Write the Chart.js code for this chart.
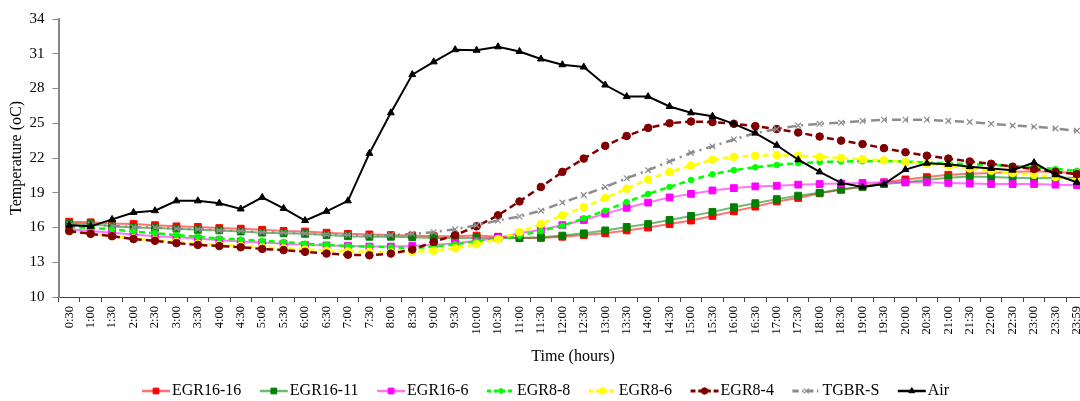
<!DOCTYPE html>
<html>
<head>
<meta charset="utf-8">
<script src="https://cdn.jsdelivr.net/npm/chart.js@4"></script>
<style>
  html, body { margin: 0; padding: 0; background: #fff; overflow: hidden; }
  #wrap { position: absolute; left: 0; top: 0; width: 1096px; height: 401px; }
</style>
</head>
<body>
<div id="wrap"><canvas id="chart"></canvas></div>
<script>
const timeLabels = [
  "0:30", "1:00", "1:30", "2:00", "2:30", "3:00", "3:30", "4:00", "4:30", "5:00", "5:30", "6:00",
  "6:30", "7:00", "7:30", "8:00", "8:30", "9:00", "9:30", "10:00", "10:30", "11:00", "11:30", "12:00",
  "12:30", "13:00", "13:30", "14:00", "14:30", "15:00", "15:30", "16:00", "16:30", "17:00", "17:30", "18:00",
  "18:30", "19:00", "19:30", "20:00", "20:30", "21:00", "21:30", "22:00", "22:30", "23:00", "23:30", "23:59"
];

const egr1616 = [
  16.5, 16.45, 16.35, 16.3, 16.2, 16.1, 16.05, 15.95, 15.9, 15.8, 15.7, 15.65,
  15.55, 15.45, 15.4, 15.35, 15.3, 15.25, 15.25, 15.3, 15.2, 15.1, 15.1, 15.2,
  15.35, 15.5, 15.75, 16.0, 16.3, 16.6, 17.0, 17.4, 17.8, 18.25, 18.55, 18.95,
  19.25, 19.55, 19.9, 20.15, 20.35, 20.55, 20.65, 20.7, 20.8, 20.85, 20.8, 20.7
];
const egr1611 = [
  16.35, 16.3, 16.1, 16.0, 15.95, 15.9, 15.8, 15.75, 15.65, 15.55, 15.5, 15.45,
  15.35, 15.25, 15.2, 15.2, 15.15, 15.1, 15.1, 15.1, 15.1, 15.1, 15.15, 15.3,
  15.5, 15.75, 16.05, 16.3, 16.65, 17.0, 17.35, 17.75, 18.1, 18.45, 18.75, 19.0,
  19.3, 19.5, 19.75, 19.9, 20.1, 20.3, 20.4, 20.35, 20.3, 20.25, 20.3, 20.3
];
const egr166 = [
  15.85, 15.7, 15.55, 15.4, 15.25, 15.15, 15.05, 14.9, 14.8, 14.7, 14.6, 14.5,
  14.45, 14.4, 14.35, 14.35, 14.4, 14.5, 14.65, 14.85, 15.1, 15.5, 15.8, 16.2,
  16.65, 17.2, 17.7, 18.15, 18.6, 18.9, 19.2, 19.4, 19.55, 19.6, 19.7, 19.75,
  19.8, 19.85, 19.9, 19.9, 19.9, 19.85, 19.8, 19.75, 19.75, 19.75, 19.7, 19.65
];
const egr88 = [
  16.05, 15.95, 15.85, 15.65, 15.5, 15.35, 15.2, 15.05, 14.95, 14.85, 14.75, 14.6,
  14.5, 14.4, 14.35, 14.3, 14.2, 14.35, 14.55, 14.8, 15.0, 15.3, 15.7, 16.15,
  16.8, 17.45, 18.2, 18.9, 19.5, 20.1, 20.6, 20.95, 21.2, 21.4, 21.55, 21.65,
  21.7, 21.72, 21.75, 21.7, 21.6, 21.55, 21.45, 21.4, 21.3, 21.2, 21.05, 20.9
];
const egr86 = [
  15.65, 15.45, 15.25, 15.05, 14.9, 14.75, 14.6, 14.5, 14.4, 14.3, 14.2, 14.1,
  14.0, 13.95, 13.9, 13.85, 13.9, 14.0, 14.2, 14.55, 15.0, 15.6, 16.3, 17.05,
  17.75, 18.55, 19.35, 20.15, 20.8, 21.35, 21.85, 22.1, 22.2, 22.25, 22.2, 22.1,
  22.0, 21.9, 21.8, 21.65, 21.5, 21.3, 21.1, 20.9, 20.7, 20.55, 20.35, 20.1
];
const egr84 = [
  15.7, 15.45, 15.25, 15.0, 14.85, 14.65, 14.5, 14.4, 14.3, 14.15, 14.05, 13.9,
  13.75, 13.65, 13.6, 13.75, 14.1, 14.75, 15.35, 16.1, 17.05, 18.25, 19.5, 20.8,
  21.95, 23.05, 23.9, 24.6, 25.0, 25.15, 25.1, 24.95, 24.75, 24.5, 24.2, 23.85,
  23.5, 23.2, 22.85, 22.5, 22.2, 21.95, 21.7, 21.5, 21.25, 21.05, 20.8, 20.6
];
const tgbrS = [
  16.3, 16.25, 16.15, 16.05, 16.0, 15.9, 15.85, 15.75, 15.7, 15.6, 15.55, 15.5,
  15.4, 15.35, 15.3, 15.35, 15.45, 15.6, 15.85, 16.2, 16.6, 16.95, 17.45, 18.15,
  18.8, 19.5, 20.25, 20.95, 21.7, 22.45, 23.0, 23.6, 24.15, 24.5, 24.8, 24.95,
  25.05, 25.2, 25.3, 25.3, 25.3, 25.2, 25.1, 24.95, 24.8, 24.7, 24.55, 24.35
];
const air = [
  16.2, 16.1, 16.7, 17.3, 17.45, 18.3, 18.3, 18.1, 17.6, 18.6, 17.65, 16.6,
  17.4, 18.3, 22.4, 25.9, 29.2, 30.3, 31.35, 31.3, 31.6, 31.2, 30.55, 30.05,
  29.85, 28.3, 27.3, 27.3, 26.45, 25.9, 25.6, 24.95, 24.15, 23.1, 21.85, 20.8,
  19.85, 19.5, 19.75, 21.0, 21.55, 21.45, 21.25, 21.1, 20.95, 21.6, 20.55, 19.9
];

const yTicks = [10, 13, 16, 19, 22, 25, 28, 31, 34];
const FONT = "'Liberation Serif', 'Times New Roman', serif";

function series(label, data, color, lineColor, style, radius, dash, width) {
  return {
    label, data,
    borderColor: lineColor,
    backgroundColor: color,
    pointBorderColor: color,
    pointBackgroundColor: color,
    pointStyle: style,
    pointRadius: radius,
    pointBorderWidth: style === "crossRot" ? 1.2 : 1,
    borderWidth: width,
    borderDash: dash,
    tension: 0,
    fill: false
  };
}

const datasets = [
  series("EGR16-16", egr1616, "#ff0000", "rgba(255,0,0,0.55)", "rect", 4.8, [], 2),
  series("EGR16-11", egr1611, "#008000", "rgba(0,128,0,0.55)", "rect", 4.8, [], 2),
  series("EGR16-6", egr166, "#ff00ff", "rgba(255,0,255,0.55)", "rect", 4.8, [], 2),
  series("EGR8-8", egr88, "#00ff00", "#00ff00", "circle", 2.8, [6, 4], 2.5),
  series("EGR8-6", egr86, "#ffff00", "#ffff00", "circle", 3.8, [6, 4], 2.5),
  series("EGR8-4", egr84, "#800000", "#800000", "circle", 3.8, [7, 4], 2.5),
  series("TGBR-S", tgbrS, "#8c8c8c", "#8c8c8c", "crossRot", 4, [9, 5, 2, 5], 2.5),
  series("Air", air, "#000000", "#000000", "triangle", 4, [], 2)
];
// later series on top, like the original
datasets.forEach((d, i) => { d.order = datasets.length - i; });

const extras = {
  id: "extras",
  afterDraw(chart) {
    const ctx = chart.ctx;
    const area = chart.chartArea;
    ctx.save();
    ctx.fillStyle = "#000";
    ctx.font = "16px " + FONT;
    ctx.textAlign = "center";
    ctx.textBaseline = "middle";
    // axis titles
    ctx.fillText("Time (hours)", (area.left + area.right) / 2, 357);
    ctx.save();
    ctx.translate(17, (area.top + area.bottom) / 2);
    ctx.rotate(-Math.PI / 2);
    ctx.fillText("Temperature (oC)", 0, 0);
    ctx.restore();

    // legend: line sample with marker, then label
    let x = 142;
    const y = 391;
    ctx.textAlign = "left";
    chart.data.datasets.forEach(d => {
      ctx.save();
      ctx.strokeStyle = d.borderColor;
      ctx.lineWidth = d.borderWidth + 0.5;
      ctx.setLineDash(d.borderDash.length ? d.borderDash.map(v => v * 0.7) : []);
      ctx.beginPath();
      ctx.moveTo(x, y);
      ctx.lineTo(x + 28, y);
      ctx.stroke();
      ctx.setLineDash([]);
      ctx.fillStyle = d.pointBackgroundColor;
      ctx.strokeStyle = d.pointBorderColor;
      ctx.lineWidth = d.pointBorderWidth;
      Chart.helpers.drawPoint(ctx, {
        pointStyle: d.pointStyle, radius: d.pointRadius * 0.85, rotation: 0, borderWidth: d.pointBorderWidth
      }, x + 14, y);
      ctx.restore();
      ctx.fillStyle = "#000";
      ctx.fillText(d.label, x + 30, y);
      x += 30 + ctx.measureText(d.label).width + 18.5;
    });
    ctx.restore();
  }
};

new Chart(document.getElementById("chart"), {
  type: "line",
  data: { labels: timeLabels, datasets },
  options: {
    responsive: true,
    maintainAspectRatio: false,
    animation: false,
    layout: { padding: { top: 19, left: 0, right: 5, bottom: 0 } },
    plugins: { legend: { display: false }, tooltip: { enabled: false } },
    scales: {
      x: {
        offset: true,
        grid: { offset: true, drawOnChartArea: false, tickLength: 5, color: "#404040" },
        border: { color: "#404040", width: 1 },
        ticks: {
          autoSkip: false, maxRotation: 90, minRotation: 90, padding: 4,
          color: "#000", font: { family: FONT, size: 12.5 }
        },
        afterFit(scale) { scale.height = 104; }
      },
      y: {
        min: 10, max: 34,
        afterBuildTicks(scale) { scale.ticks = yTicks.map(v => ({ value: v })); },
        grid: { drawOnChartArea: false, tickLength: 6, color: "#888" },
        border: { color: "#888", width: 2 },
        ticks: { padding: 8, color: "#000", font: { family: FONT, size: 15 } },
        afterFit(scale) { scale.width = 58.5; }
      }
    }
  },
  plugins: [extras]
});
</script>
</body>
</html>
